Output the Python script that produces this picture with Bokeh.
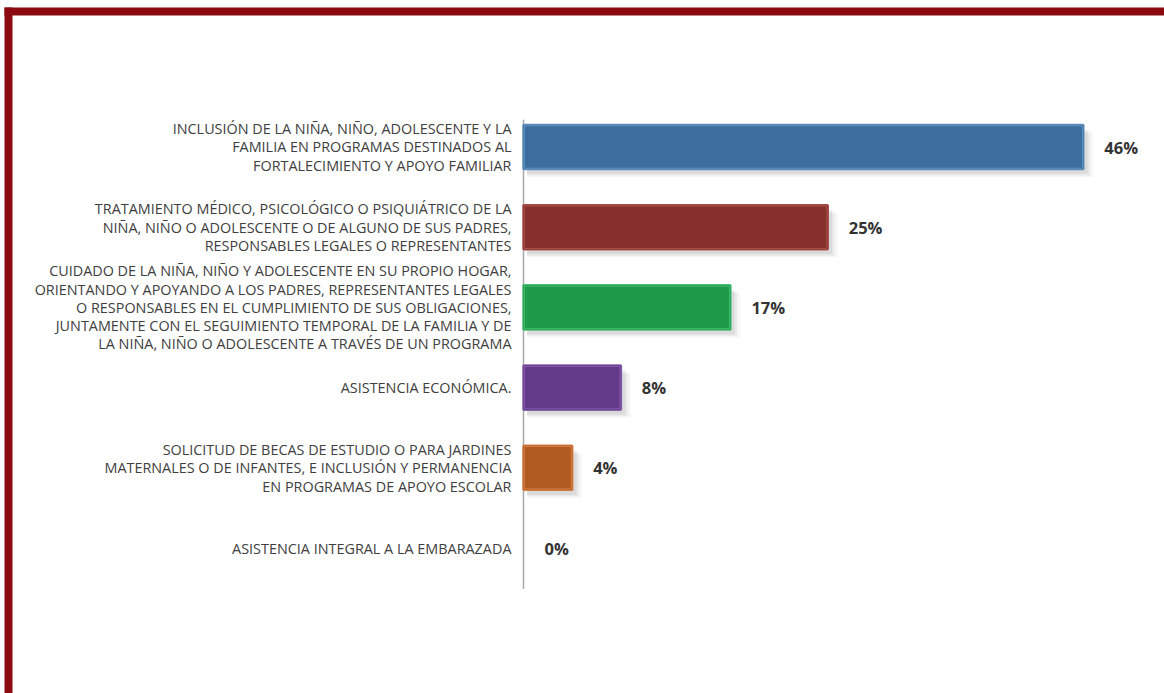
from bokeh.plotting import figure
from bokeh.models import ColumnDataSource, Range1d, BoxAnnotation
from bokeh.core.properties import value
from bokeh.embed import file_html
from bokeh.resources import INLINE

# ---- data ----
categories = [
    "INCLUSIÓN DE LA NIÑA, NIÑO, ADOLESCENTE Y LA\nFAMILIA EN PROGRAMAS DESTINADOS AL\nFORTALECIMIENTO Y APOYO FAMILIAR",
    "TRATAMIENTO MÉDICO, PSICOLÓGICO O PSIQUIÁTRICO DE LA\nNIÑA, NIÑO O ADOLESCENTE O DE ALGUNO DE SUS PADRES,\nRESPONSABLES LEGALES O REPRESENTANTES",
    "CUIDADO DE LA NIÑA, NIÑO Y ADOLESCENTE EN SU PROPIO HOGAR,\nORIENTANDO Y APOYANDO A LOS PADRES, REPRESENTANTES LEGALES\nO RESPONSABLES EN EL CUMPLIMIENTO DE SUS OBLIGACIONES,\nJUNTAMENTE CON EL SEGUIMIENTO TEMPORAL DE LA FAMILIA Y DE\nLA NIÑA, NIÑO O ADOLESCENTE A TRAVÉS DE UN PROGRAMA",
    "ASISTENCIA ECONÓMICA.",
    "SOLICITUD DE BECAS DE ESTUDIO O PARA JARDINES\nMATERNALES O DE INFANTES, E INCLUSIÓN Y PERMANENCIA\nEN PROGRAMAS DE APOYO ESCOLAR",
    "ASISTENCIA INTEGRAL A LA EMBARAZADA",
]
percentages = [46, 25, 17, 8, 4, 0]
bar_colors = ["#3B6E9F", "#85302B", "#1F9A4B", "#643A8B", "#B15A22", "#999999"]
edge_colors = ["#6A98C6", "#B0554F", "#4CC276", "#8A62B0", "#D9844A", "#BBBBBB"]

positions = list(range(len(categories)))
labels = [f"{v}%" for v in percentages]

bar_idx = [i for i, v in enumerate(percentages) if v > 0]
bars = ColumnDataSource(dict(
    y=[positions[i] for i in bar_idx],
    right=[percentages[i] for i in bar_idx],
    color=[bar_colors[i] for i in bar_idx],
    edge=[edge_colors[i] for i in bar_idx],
))
cats = ColumnDataSource(dict(y=positions, x=[0] * len(positions), text=categories))
vals = ColumnDataSource(dict(y=positions, x=percentages, text=labels))

W, H = 1164, 693
PX_PER_PCT = 12.17
PX_PER_CAT = 80.2
AXIS_X = 523
FIRST_Y = 146.5

p = figure(width=W, height=H, output_backend="svg", toolbar_location=None,
           x_axis_type=None, y_axis_type=None,
           x_range=Range1d(-AXIS_X / PX_PER_PCT, (W - AXIS_X) / PX_PER_PCT),
           y_range=Range1d((H - FIRST_Y) / PX_PER_CAT, -FIRST_Y / PX_PER_CAT),
           min_border=0)
p.outline_line_color = None
p.grid.visible = False
p.background_fill_color = "white"
p.border_fill_color = "white"

# vertical category axis line
p.segment(x0=[0], x1=[0], y0=[positions[0] - 0.34], y1=[positions[-1] + 0.51],
          line_color="#A8A8A8", line_width=1.5)

# category labels
p.text(x="x", y="y", text="text", source=cats, x_offset=-12,
       text_align="right", text_baseline="middle",
       text_font=value("Open Sans"), text_font_size="14.4px",
       text_line_height=0.96, text_color="#404040")

# soft shadows
for dy, dx, a in [(0.10, 0.8, 0.05), (0.08, 0.55, 0.08), (0.06, 0.35, 0.10)]:
    p.hbar(y=[positions[i] + dy for i in bar_idx],
           right=[percentages[i] + dx for i in bar_idx],
           left=0.3, height=0.55, fill_color="#555555", fill_alpha=a, line_color=None)

# bars with bevel-like edge
p.hbar(y="y", right="right", left=0, height=0.55, source=bars,
       fill_color="color", line_color="edge", line_width=2.5)
p.hbar(y="y", right="right", left=0, height=0.55, source=bars,
       fill_color=None, line_color="color", line_width=0.8, line_alpha=0.9)

# value labels
p.text(x="x", y="y", text="text", source=vals, x_offset=21,
       text_align="left", text_baseline="middle",
       text_font=value("Open Sans"), text_font_size="16.5px",
       text_font_style="bold", text_color="#333333")

# dark red frame (top and left), screen units measured from the bottom-left
p.add_layout(BoxAnnotation(left=4, bottom=H - 15, top=H - 7,
                           left_units="screen", top_units="screen", bottom_units="screen",
                           fill_color="#8C0A0F", fill_alpha=1, line_color=None))
p.add_layout(BoxAnnotation(left=4, right=12, top=H - 7,
                           left_units="screen", right_units="screen", top_units="screen",
                           fill_color="#8C0A0F", fill_alpha=1, line_color=None))

open("out.html", "w").write(file_html(p, INLINE))
